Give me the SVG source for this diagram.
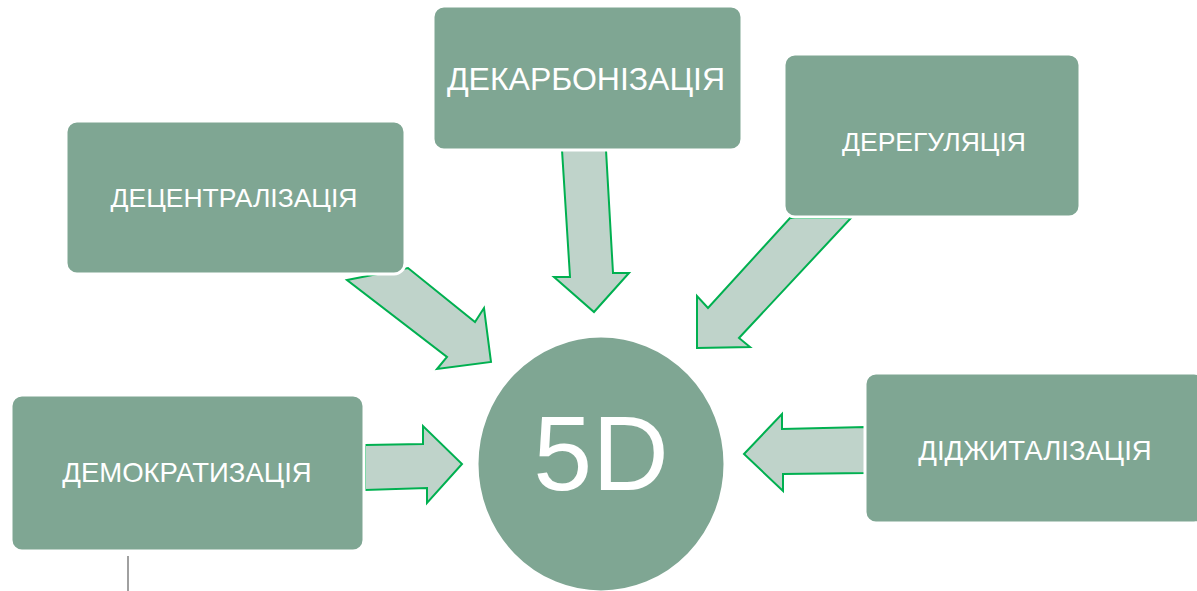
<svg xmlns="http://www.w3.org/2000/svg" width="1197" height="591" viewBox="0 0 1197 591">
<style>
.box{fill:#7FA693;stroke:#fff;stroke-width:3}
.arr{fill:#BFD3CA;stroke:#00B050;stroke-width:2;stroke-linejoin:miter}
.t{fill:#fff;font-family:"Liberation Sans",Arial,sans-serif;text-anchor:middle}
</style>
<rect width="1197" height="591" fill="#fff"/>
<g id="connectors">
<polygon class="arr" points="347,280 408,268 475,322 484,308 491,362 437,369 447,357"/>
<polygon class="arr" points="562,150 606,150 613,273 629,273 594,312 554,277 570,277"/>
<polygon class="arr" points="851,218 790,218 708,308 697,296 697,348 750,347 739,338"/>
<polygon class="arr" points="365,445 423,444 423,426 462,464 427,503 427,488 365,490"/>
<polygon class="arr" points="866,427 782,429 782,414 744,454 783,491 783,474 866,473"/>
</g>
<g id="n-decentral"><rect class="box" x="66" y="121" width="339" height="153" rx="11"/><text class="t" x="234" y="206.5" style="font-size:26.5px">ДЕЦЕНТРАЛІЗАЦІЯ</text></g>
<g id="n-decarbon"><rect class="box" x="433" y="6" width="309" height="144" rx="11"/><text class="t" x="586" y="89.5" style="font-size:32px">ДЕКАРБОНІЗАЦІЯ</text></g>
<g id="n-dereg"><rect class="box" x="784" y="54" width="296" height="163" rx="11"/><text class="t" x="934" y="150.5" style="font-size:26.5px">ДЕРЕГУЛЯЦІЯ</text></g>
<g id="n-democrat"><rect class="box" x="11" y="395" width="353" height="156" rx="11"/><text class="t" x="187" y="482" style="font-size:27.5px">ДЕМОКРАТИЗАЦІЯ</text></g>
<g id="n-digital"><rect class="box" x="865" y="373" width="340" height="150" rx="11"/><text class="t" x="1035" y="460" style="font-size:27.5px">ДІДЖИТАЛІЗАЦІЯ</text></g>
<g id="n-5d"><ellipse class="box" cx="601" cy="464" rx="124" ry="128"/><text class="t" x="601" y="490" style="font-size:106px">5D</text></g>
<line x1="128" y1="556" x2="128" y2="591" stroke="#808080" stroke-width="1.5"/>
</svg>
